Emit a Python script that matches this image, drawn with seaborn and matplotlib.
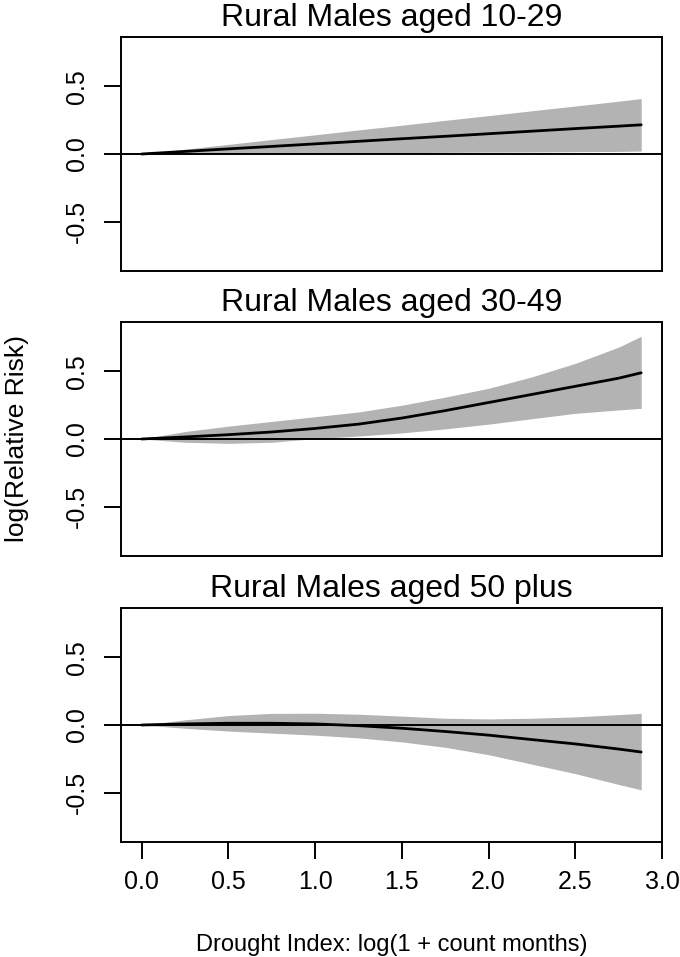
import numpy as np
import pandas as pd
import matplotlib
matplotlib.use("Agg")
import matplotlib.pyplot as plt
import seaborn as sns

# drought index grid (x) shared by all panels
drought = [0.0, 0.25, 0.5, 0.75, 1.0, 1.25, 1.5, 1.75, 2.0, 2.25, 2.5, 2.75, 2.88]

titles = ["Rural Males aged 10-29", "Rural Males aged 30-49", "Rural Males aged 50 plus"]

# log relative risk estimates and confidence limits
fit_10_29 = [0, 0.019, 0.038, 0.056, 0.075, 0.094, 0.113, 0.131, 0.150, 0.169, 0.188, 0.206, 0.216]
upr_10_29 = [0, 0.036, 0.071, 0.107, 0.142, 0.178, 0.213, 0.249, 0.284, 0.320, 0.355, 0.391, 0.41]
lwr_10_29 = [0, 0.002, 0.003, 0.005, 0.007, 0.008, 0.010, 0.012, 0.014, 0.015, 0.017, 0.019, 0.022]

fit_30_49 = [0, 0.015, 0.032, 0.052, 0.078, 0.11, 0.155, 0.21, 0.27, 0.33, 0.39, 0.45, 0.49]
upr_30_49 = [0, 0.055, 0.095, 0.13, 0.165, 0.2, 0.25, 0.31, 0.375, 0.46, 0.56, 0.68, 0.76]
lwr_30_49 = [0, -0.024, -0.032, -0.024, 0.003, 0.022, 0.045, 0.075, 0.11, 0.15, 0.19, 0.215, 0.227]

fit_50_plus = [0, 0.008, 0.013, 0.013, 0.008, -0.005, -0.024, -0.048, -0.075, -0.108, -0.14, -0.178, -0.2]
upr_50_plus = [0, 0.038, 0.07, 0.086, 0.087, 0.08, 0.066, 0.05, 0.045, 0.05, 0.06, 0.077, 0.086]
lwr_50_plus = [0, -0.024, -0.045, -0.06, -0.075, -0.095, -0.125, -0.165, -0.22, -0.29, -0.36, -0.44, -0.48]

xticks = [0.0, 0.5, 1.0, 1.5, 2.0, 2.5, 3.0]
yticks = [-0.5, 0.0, 0.5]

# build one long table
frames = []
for t, f, u, l in zip(titles,
                      [fit_10_29, fit_30_49, fit_50_plus],
                      [upr_10_29, upr_30_49, upr_50_plus],
                      [lwr_10_29, lwr_30_49, lwr_50_plus]):
    frames.append(pd.DataFrame({"group": t, "x": drought, "fit": f, "upr": u, "lwr": l}))
df = pd.concat(frames, ignore_index=True)

sns.set_style("ticks")
plt.rcParams["font.family"] = ["Liberation Sans", "DejaVu Sans"]
plt.rcParams["text.color"] = "black"
plt.rcParams["axes.labelcolor"] = "black"
plt.rcParams["xtick.color"] = "black"
plt.rcParams["ytick.color"] = "black"
plt.rcParams["axes.edgecolor"] = "black"

fig = plt.figure(figsize=(6.8, 9.57), dpi=100)
left, width, height = 121 / 680, 541 / 680, 234 / 957
bottoms = [1 - 271 / 957, 1 - 556 / 957, 1 - 842 / 957]

for i, (t, b) in enumerate(zip(titles, bottoms)):
    ax = fig.add_axes([left, b, width, height])
    d = df[df["group"] == t]
    ax.fill_between(d["x"], d["lwr"], d["upr"], color="#b3b3b3", linewidth=0, zorder=1)
    sns.lineplot(data=d, x="x", y="fit", color="black", linewidth=2.0, ax=ax, zorder=3)
    ax.axhline(0, color="black", linewidth=1.4, zorder=2)

    ax.set_xlim(-0.119, 3.0)
    ax.set_ylim(-0.866, 0.866)
    ax.set_yticks(yticks)
    ax.set_yticklabels(["-0.5", "0.0", "0.5"], rotation=90, va="center")
    ax.tick_params(axis="y", length=12, width=1.4, pad=11, labelsize=18)
    if i == 2:
        ax.set_xticks(xticks)
        ax.set_xticklabels([f"{v:.1f}" for v in xticks])
        ax.tick_params(axis="x", length=12, width=1.4, pad=8, labelsize=18)
        ax.set_xlabel("Drought Index: log(1 + count months)", fontsize=17, labelpad=29)
    else:
        ax.set_xticks([])
        ax.set_xlabel("")
    if i == 1:
        ax.set_ylabel("log(Relative Risk)", fontsize=19, labelpad=26)
    else:
        ax.set_ylabel("")
    ax.set_title(t, fontsize=23, pad=8)
    for s in ax.spines.values():
        s.set_visible(True)
        s.set_linewidth(1.4)
        s.set_color("black")

fig.savefig("out.png", dpi=100, facecolor="white")
